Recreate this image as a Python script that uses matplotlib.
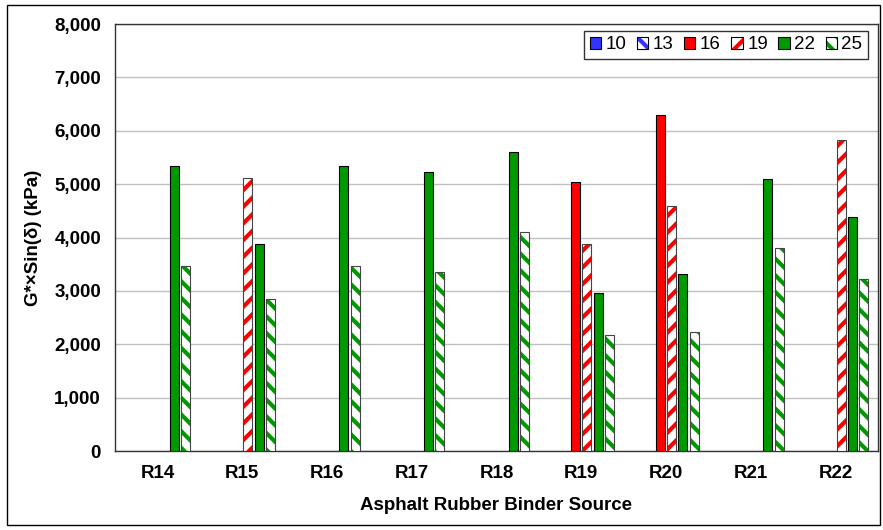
import matplotlib
matplotlib.use("Agg")
import matplotlib.pyplot as plt
from matplotlib.patches import Rectangle, Patch
from matplotlib.legend_handler import HandlerTuple
import numpy as np

plt.rcParams['font.family'] = ['Liberation Sans', 'DejaVu Sans']
plt.rcParams['hatch.linewidth'] = 3.0

categories = ["R14", "R15", "R16", "R17", "R18", "R19", "R20", "R21", "R22"]
series_names = ["10", "13", "16", "19", "22", "25"]

vals_10 = [0, 0, 0, 0, 0, 0, 0, 0, 0]
vals_13 = [0, 0, 0, 0, 0, 0, 0, 0, 0]
vals_16 = [0, 0, 0, 0, 0, 5040, 6300, 0, 0]
vals_19 = [0, 5120, 0, 0, 0, 3870, 4590, 0, 5820]
vals_22 = [5335, 3875, 5340, 5220, 5610, 2965, 3320, 5100, 4390]
vals_25 = [3470, 2840, 3470, 3360, 4100, 2170, 2235, 3800, 3230]

series_values = [vals_10, vals_13, vals_16, vals_19, vals_22, vals_25]
colors = ["#3333ff", "#3333ff", "#ff0000", "#ff0000", "#009900", "#009900"]
hatches = [None, "\\\\", None, "//", None, "\\\\"]

fig = plt.figure(figsize=(8.83, 5.30), dpi=100)
ax = fig.add_axes([115 / 883, 1 - 451 / 530, (878 - 115) / 883, (451 - 24) / 530])

x = np.arange(len(categories))
step = 0.133
width = 0.106

for i, (vals, col, h) in enumerate(zip(series_values, colors, hatches)):
    pos = x + (i - 2.5) * step
    vals = np.asarray(vals, dtype=float)
    mask = vals > 0
    if h is None:
        ax.bar(pos[mask], vals[mask], width=width, color=col,
               edgecolor="black", linewidth=0.8, zorder=3)
    else:
        ax.bar(pos[mask], vals[mask], width=width, facecolor="white",
               edgecolor=col, hatch=h, linewidth=0, zorder=3)
        ax.bar(pos[mask], vals[mask], width=width, facecolor="none",
               edgecolor="#444444", linewidth=0.8, zorder=4)

ax.set_xlim(-0.5, len(categories) - 0.5)
ax.set_ylim(0, 8000)
ax.set_yticks(np.arange(0, 8001, 1000))
ax.set_yticklabels([f"{v:,}" for v in range(0, 8001, 1000)],
                   fontsize=13.5, fontweight="bold")
ax.set_xticks(x)
ax.set_xticklabels(categories, fontsize=13.5, fontweight="bold")
ax.tick_params(axis="both", length=0, pad=10)
ax.tick_params(axis="x", pad=10)
ax.yaxis.grid(True, color="#c0c0c0", linewidth=1.0, zorder=0)
ax.set_axisbelow(True)
for sp in ax.spines.values():
    sp.set_color("#333333")
    sp.set_linewidth(1.0)

ax.set_xlabel("Asphalt Rubber Binder Source", fontsize=13.5, fontweight="bold", labelpad=11)
ax.set_ylabel("G*×Sin(δ) (kPa)", fontsize=13.5, fontweight="bold", labelpad=9)

handles = []
for col, h in zip(colors, hatches):
    if h is None:
        handles.append(Patch(facecolor=col, edgecolor="black", linewidth=0.8))
    else:
        handles.append((Patch(facecolor="white", edgecolor=col, hatch=h, linewidth=0),
                        Patch(facecolor="none", edgecolor="black", linewidth=0.8)))
leg = ax.legend(handles, series_names, loc="upper right", ncol=6, fontsize=13.5,
                frameon=True, fancybox=False, edgecolor="black",
                handlelength=0.6, handleheight=0.6, handletextpad=0.25,
                columnspacing=0.55, borderpad=0.3, borderaxespad=0,
                bbox_to_anchor=(0.987, 0.984),
                handler_map={tuple: HandlerTuple(ndivide=1, pad=0)})
leg.get_frame().set_linewidth(1.0)

fig.patches.append(Rectangle((7 / 883, 1 - 525 / 530), (880 - 7) / 883, (525 - 5) / 530,
                             transform=fig.transFigure, fill=False,
                             edgecolor="black", linewidth=1.0))

fig.savefig("out.png", dpi=100)
